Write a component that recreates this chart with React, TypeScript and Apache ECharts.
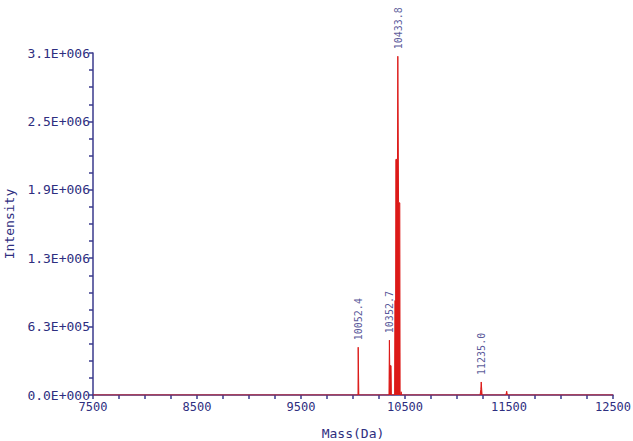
import React, { useEffect, useRef } from "react";
import * as echarts from "echarts";

// Spectrum trace (mass in Da, intensity)
const traceMass = [
  7500, 10048, 10050, 10054, 10056,
  10346, 10350, 10353, 10355, 10356, 10366, 10369,
  10400, 10403, 10410, 10412, 10428, 10431, 10436, 10438, 10450, 10453,
  10460, 10463, 10466,
  11222, 11229, 11233, 11237, 11241,
  11470, 11478, 11484, 12500,
];
const traceIntensity = [
  0, 0, 440000, 440000, 0,
  0, 505000, 505000, 150000, 270000, 270000, 0,
  0, 870000, 870000, 2170000, 2170000, 3120000, 3120000, 1770000, 1770000, 0,
  0, 30000, 0,
  0, 50000, 120000, 120000, 0,
  0, 35000, 0, 0,
];

// Annotated peaks
const peakMass = [10052.4, 10352.7, 10433.8, 11235.0];
const peakIntensity = [440000, 505000, 3120000, 120000];

// Axis ticks
const yTickValues = [0, 630000, 1260000, 1890000, 2520000, 3150000];
const yTickLabels = ["0.0E+000", "6.3E+005", "1.3E+006", "1.9E+006", "2.5E+006", "3.1E+006"];
const xMin = 7500;
const xMax = 12500;

const FONT = "DejaVu Sans Mono";
const TEXT = "#2e2e80";
const AXIS = "#3a3a8c";
const RED = "#dc1a18";

export default function App() {
  const ref = useRef<HTMLDivElement>(null);
  useEffect(() => {
    if (!ref.current) return;
    const chart = echarts.init(ref.current, null, { renderer: "svg" });
    const trace = traceMass.map((m, i) => [m, traceIntensity[i]]);
    const peaks = peakMass.map((m, i) => [m, peakIntensity[i]]);
    chart.setOption({
      animation: false,
      backgroundColor: "#ffffff",
      grid: { left: 93, right: 20, top: 53, bottom: 46, outerBoundsMode: "none", containLabel: false },
      xAxis: {
        type: "value",
        min: xMin,
        max: xMax,
        interval: 1000,
        name: "Mass(Da)",
        nameLocation: "middle",
        nameGap: 32,
        nameTextStyle: { fontFamily: FONT, fontSize: 13, color: TEXT },
        axisLine: { show: true, lineStyle: { color: AXIS, width: 1.5 } },
        axisTick: { show: true, length: 4, lineStyle: { color: AXIS, width: 1.5 } },
        minorTick: { show: true, splitNumber: 4, length: 4, lineStyle: { color: AXIS, width: 1.5 } },
        axisLabel: {
          fontFamily: FONT,
          fontSize: 12,
          color: TEXT,
          margin: 6,
          formatter: (v: number) => String(v),
        },
        splitLine: { show: false },
      },
      yAxis: {
        type: "value",
        min: yTickValues[0],
        max: yTickValues[yTickValues.length - 1],
        interval: yTickValues[1] - yTickValues[0],
        name: "Intensity",
        nameLocation: "middle",
        nameGap: 76,
        nameTextStyle: { fontFamily: FONT, fontSize: 13, color: TEXT },
        axisLine: { show: true, lineStyle: { color: AXIS, width: 1.5 } },
        axisTick: { show: true, length: 4, lineStyle: { color: AXIS, width: 1.5 } },
        minorTick: { show: true, splitNumber: 4, length: 4, lineStyle: { color: AXIS, width: 1.5 } },
        axisLabel: {
          fontFamily: FONT,
          fontSize: 13,
          color: TEXT,
          margin: 3,
          formatter: (_v: number, idx: number) => yTickLabels[idx] ?? "",
        },
        splitLine: { show: false },
      },
      series: [
        {
          type: "line",
          data: trace,
          symbol: "none",
          lineStyle: { color: RED, width: 1 },
          areaStyle: { color: RED, opacity: 1 },
          z: 3,
        },
        {
          type: "scatter",
          data: peaks,
          symbolSize: 0,
          silent: true,
          label: {
            show: true,
            position: "top",
            distance: 7,
            rotate: 90,
            align: "left",
            verticalAlign: "middle",
            fontFamily: FONT,
            fontSize: 10,
            color: TEXT,
            formatter: (p: any) => p.value[0].toFixed(1),
          },
          z: 4,
        },
      ],
    });
    return () => chart.dispose();
  }, []);
  return (
    <div
      ref={ref}
      style={{ position: "fixed", left: 0, top: 0, width: 633, height: 441 }}
    />
  );
}
